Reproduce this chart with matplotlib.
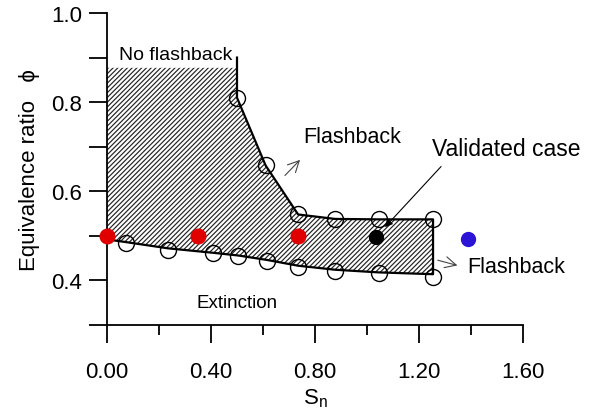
import matplotlib
matplotlib.use("Agg")
import matplotlib.pyplot as plt

plt.rcParams['font.family'] = ['Liberation Sans', 'DejaVu Sans']
plt.rcParams['mathtext.fontset'] = 'custom'
plt.rcParams['mathtext.rm'] = 'Liberation Sans'
plt.rcParams['mathtext.it'] = 'Liberation Sans:italic'
plt.rcParams['hatch.linewidth'] = 0.85

# ---- data ----
upper_S = [0.50, 0.61, 0.735, 0.877, 1.046, 1.254]
upper_phi = [0.81, 0.658, 0.548, 0.538, 0.537, 0.537]
lower_S = [0.073, 0.235, 0.408, 0.504, 0.615, 0.735, 0.877, 1.046, 1.254]
lower_phi = [0.485, 0.468, 0.461, 0.454, 0.443, 0.430, 0.421, 0.416, 0.407]

# boundary lines
bnd_up_S = [0.50, 0.50, 0.61, 0.735, 0.877, 1.046, 1.254, 1.254]
bnd_up_phi = [0.90, 0.81, 0.658, 0.548, 0.538, 0.537, 0.537, 0.414]
bnd_lo_S = [0.0, 0.073, 0.235, 0.408, 0.504, 0.615, 0.735, 0.877, 1.046, 1.254]
bnd_lo_phi = [0.492, 0.486, 0.472, 0.462, 0.456, 0.446, 0.433, 0.424, 0.418, 0.414]
hatch_top_phi = 0.877

red_S = [0.0, 0.35, 0.735]
red_phi = [0.50, 0.50, 0.50]
black_S = [1.035]
black_phi = [0.497]
blue_S = [1.39]
blue_phi = [0.494]

xticks = [0.0, 0.4, 0.8, 1.2, 1.6]
xticklabels = ['0.00', '0.40', '0.80', '1.20', '1.60']
xminor = [0.2, 0.6, 1.0, 1.4]
yticks = [0.4, 0.6, 0.8, 1.0]
yticklabels = ['0.4', '0.6', '0.8', '1.0']
yminor = [0.3, 0.5, 0.7, 0.9]

# ---- figure ----
fig = plt.figure(figsize=(6.02, 4.10), dpi=100)
ax = fig.add_axes([107/602, 84/410, 416/602, 312/410])
ax.set_xlim(0, 1.6)
ax.set_ylim(0.3, 1.0)

for s in ['top', 'right']:
    ax.spines[s].set_visible(False)
for s in ['left', 'bottom']:
    ax.spines[s].set_linewidth(1.3)

# hatched region
poly_S = [0.0, 0.5] + bnd_up_S[1:] + bnd_lo_S[::-1]
poly_phi = [hatch_top_phi, hatch_top_phi] + bnd_up_phi[1:] + bnd_lo_phi[::-1]
ax.fill(poly_S, poly_phi, facecolor='none', edgecolor='#222222', hatch='///////', linewidth=0, zorder=1)

# boundary lines
ax.plot(bnd_up_S + bnd_lo_S[::-1], bnd_up_phi + bnd_lo_phi[::-1], color='black', lw=1.6, zorder=3)

# open circles
ax.plot(upper_S, upper_phi, 'o', mfc='none', mec='black', ms=11.5, mew=1.0, zorder=4)
ax.plot(lower_S, lower_phi, 'o', mfc='none', mec='black', ms=11.5, mew=1.0, zorder=4)

# filled points
ax.plot(red_S, red_phi, 'o', color='#e00000', ms=10.5, zorder=6, clip_on=False)
ax.plot(black_S, black_phi, 'o', color='black', ms=10, zorder=6)
ax.plot(blue_S, blue_phi, 'o', color='#2c14d6', ms=10, zorder=6)

# ticks
ax.set_xticks(xticks)
ax.set_xticklabels(xticklabels)
ax.set_xticks(xminor, minor=True)
ax.set_yticks(yticks)
ax.set_yticklabels(yticklabels)
ax.set_yticks(yminor, minor=True)
ax.tick_params(axis='x', which='major', direction='out', length=13, width=1.3, labelsize=16, pad=13)
ax.tick_params(axis='x', which='minor', direction='out', length=7, width=1.3)
ax.tick_params(axis='y', which='major', direction='out', length=13, width=1.3, labelsize=16, pad=5)
ax.tick_params(axis='y', which='minor', direction='out', length=13, width=1.3)

ax.set_xlabel(r'S$_{\mathrm{n}}$', fontsize=16, labelpad=3)
ax.set_ylabel('Equivalence ratio   \u03d5', fontsize=16, labelpad=8)

# texts
ax.text(0.046, 0.906, 'No flashback', fontsize=14, ha='left', va='center')
ax.text(0.754, 0.722, 'Flashback', fontsize=15.5, ha='left', va='center')
ax.text(1.25, 0.696, 'Validated case', fontsize=16.5, ha='left', va='center', clip_on=False)
ax.text(1.385, 0.432, 'Flashback', fontsize=15.5, ha='left', va='center', clip_on=False)
ax.text(0.346, 0.351, 'Extinction', fontsize=13.5, ha='left', va='center')

# arrows
ax.annotate('', xy=(0.75, 0.675), xytext=(0.677, 0.631),
            arrowprops=dict(arrowstyle='->', lw=0.8, color='#444444', mutation_scale=20))
ax.annotate('', xy=(1.358, 0.432), xytext=(1.262, 0.447),
            arrowprops=dict(arrowstyle='->', lw=0.8, color='#444444', mutation_scale=20))
ax.annotate('', xy=(1.062, 0.515), xytext=(1.292, 0.66),
            arrowprops=dict(arrowstyle='-|>', lw=0.8, color='black', mutation_scale=11))

fig.savefig('out.png', dpi=100)
